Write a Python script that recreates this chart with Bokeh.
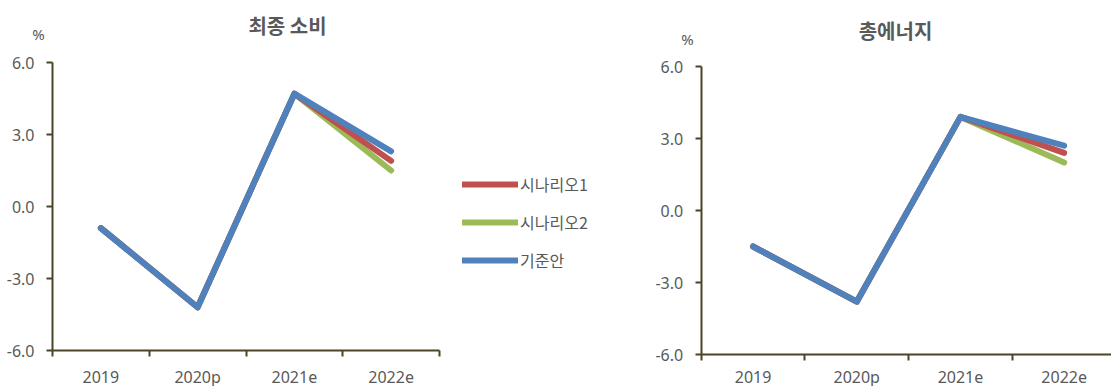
from bokeh.plotting import figure
from bokeh.models import (Range1d, FixedTicker, Legend, LegendItem, Label, LinearAxis,
                          NumeralTickFormatter, ColumnDataSource)
from bokeh.embed import file_html
from bokeh.resources import INLINE

categories = ["2019", "2020p", "2021e", "2022e"]
series_names = ["시나리오1", "시나리오2", "기준안"]
series_colors = ["#C0504D", "#9BBB59", "#4F81BD"]

# 최종 소비 (final consumption), %
final_s1 = [-0.9, -4.2, 4.7, 1.9]
final_s2 = [-0.9, -4.2, 4.7, 1.5]
final_base = [-0.9, -4.2, 4.7, 2.3]

# 총에너지 (total energy), %
total_s1 = [-1.5, -3.8, 3.9, 2.4]
total_s2 = [-1.5, -3.8, 3.9, 2.0]
total_base = [-1.5, -3.8, 3.9, 2.7]

y_ticks = [-6.0, -3.0, 0.0, 3.0, 6.0]
y_min, y_max = -6.0, 6.0

W, H = 1111, 386
AXIS_COLOR = "#4a4528"
TEXT_COLOR = "#595959"
FONT = "Noto Sans"
CJK = "Noto Sans CJK KR"

xpos = [i + 0.5 for i in range(len(categories))]
ncat = len(categories)

p = figure(width=W, height=H, output_backend="svg", toolbar_location=None,
           x_range=Range1d(0, W), y_range=Range1d(H, 0),
           x_axis_location=None, y_axis_location=None,
           min_border_left=0, min_border_right=0, min_border_top=0, min_border_bottom=0)
p.outline_line_color = None
p.grid.visible = False
p.background_fill_color = "white"
p.border_fill_color = "white"


def add_panel(key, s1, s2, base, left_px, cat_px, top_px, bottom_px, title, title_xy, pct_xy,
              x_label_standoff):
    # panel ranges mapped onto the full canvas (layout, not data)
    ppu_y = (bottom_px - top_px) / (y_max - y_min)
    yr = Range1d(y_min - (H - bottom_px) / ppu_y, y_max + top_px / ppu_y)
    xr = Range1d(-left_px / cat_px, (W - left_px) / cat_px)
    xn, yn = "x_" + key, "y_" + key
    p.extra_x_ranges[xn] = xr
    p.extra_y_ranges[yn] = yr

    xa = LinearAxis(x_range_name=xn, y_range_name=yn, fixed_location=y_min, bounds=(0, ncat))
    xa.ticker = FixedTicker(ticks=xpos, minor_ticks=list(range(ncat + 1)))
    xa.major_label_overrides = {x: c for x, c in zip(xpos, categories)}
    xa.major_tick_line_color = None
    xa.major_tick_out = 0
    xa.major_tick_in = 0
    xa.minor_tick_line_color = AXIS_COLOR
    xa.minor_tick_line_width = 2
    xa.minor_tick_out = 6
    xa.minor_tick_in = 0
    xa.axis_line_color = AXIS_COLOR
    xa.axis_line_width = 2
    xa.major_label_text_font = FONT
    xa.major_label_text_font_size = "16px"
    xa.major_label_text_color = TEXT_COLOR
    xa.major_label_standoff = x_label_standoff
    p.add_layout(xa, "below")

    ya = LinearAxis(x_range_name=xn, y_range_name=yn, fixed_location=0, bounds=(y_min, y_max))
    ya.ticker = FixedTicker(ticks=y_ticks, minor_ticks=[])
    ya.formatter = NumeralTickFormatter(format="0.0")
    ya.major_tick_line_color = AXIS_COLOR
    ya.major_tick_line_width = 2
    ya.major_tick_out = 6
    ya.major_tick_in = 0
    ya.minor_tick_line_color = None
    ya.axis_line_color = AXIS_COLOR
    ya.axis_line_width = 2
    ya.major_label_text_font = FONT
    ya.major_label_text_font_size = "16px"
    ya.major_label_text_color = TEXT_COLOR
    ya.major_label_standoff = 12
    p.add_layout(ya, "left")

    renderers = {}
    for name, vals, color in [(series_names[1], s2, series_colors[1]),
                              (series_names[0], s1, series_colors[0]),
                              (series_names[2], base, series_colors[2])]:
        src = ColumnDataSource(dict(x=xpos, y=vals))
        r = p.line("x", "y", source=src, x_range_name=xn, y_range_name=yn,
                   line_color=color, line_width=6, line_cap="round", line_join="round")
        renderers[name] = r

    p.add_layout(Label(x=title_xy[0], y=title_xy[1], text=title, text_font=CJK,
                       text_font_size="20px", text_font_style="bold", text_color=TEXT_COLOR,
                       text_align="center", text_baseline="middle"))
    p.add_layout(Label(x=pct_xy[0], y=pct_xy[1], text="%", text_font=FONT,
                       text_font_size="15px", text_color=TEXT_COLOR,
                       text_align="center", text_baseline="middle"))
    return renderers


r1 = add_panel("a", final_s1, final_s2, final_base, left_px=52, cat_px=96.75, top_px=62,
               bottom_px=350, title="최종 소비", title_xy=(287, 25), pct_xy=(38, 33),
               x_label_standoff=9)
add_panel("b", total_s1, total_s2, total_base, left_px=700.7, cat_px=103.7, top_px=66,
          bottom_px=354, title="총에너지", title_xy=(895, 30), pct_xy=(687, 38),
          x_label_standoff=5)

items = [LegendItem(label=n, renderers=[r1[n]]) for n in series_names]
lg = Legend(items=items, location=(462, 114), orientation="vertical",
            glyph_width=56, glyph_height=20, label_height=20, label_standoff=2,
            spacing=14, padding=0, margin=0,
            label_text_font=CJK, label_text_font_size="16px", label_text_color=TEXT_COLOR,
            border_line_color=None, background_fill_alpha=0)
p.add_layout(lg, "center")

open("out.html", "w").write(file_html(p, INLINE))
